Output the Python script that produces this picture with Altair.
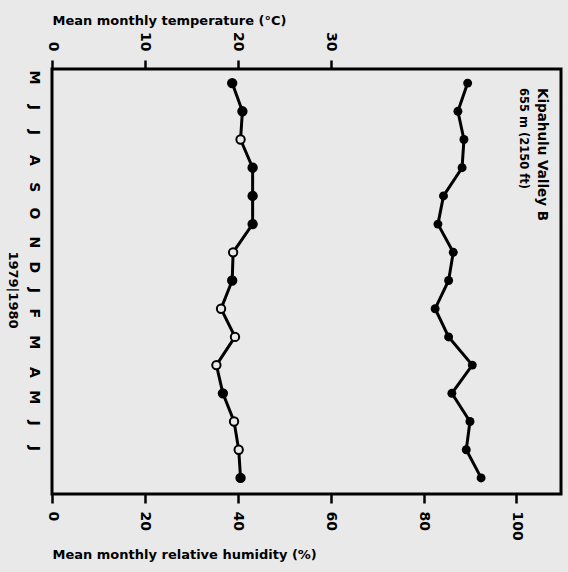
import altair as alt
import pandas as pd

months = ["M", "J", "J", "A", "S", "O", "N", "D", "J", "F", "M", "A", "M", "J", "J"]
# where the hand-lettered month labels sit, in month-index units
month_label_pos = [-0.22, 0.84, 1.73, 2.72, 3.68, 4.60, 5.63, 6.51, 7.33, 8.14, 9.17, 10.24, 11.12, 12.04, 12.93]
temperature = [19.4, 20.5, 20.3, 21.6, 21.6, 21.6, 19.5, 19.4, 18.2, 19.7, 17.7, 18.4, 19.6, 20.1, 20.3]
temp_marker = ["filled", "filled", "open", "filled", "filled", "filled", "open", "filled",
               "open", "open", "open", "filled", "open", "open", "filled"]
humidity = [89.5, 87.4, 88.7, 88.3, 84.3, 83.1, 86.4, 85.4, 82.5, 85.4, 90.5, 86.1, 90.0, 89.2, 92.4]
temp_ticks = [0, 10, 20, 30]
hum_ticks = [0, 20, 40, 60, 80, 100]
station = ["Kipahulu Valley B", "655 m (2150 ft)"]
years = "1979|1980"

BG = "#e9e9e9"
FONT = "DejaVu Sans"

df = pd.DataFrame({
    "idx": list(range(len(months))),
    "month": months,
    "temp": temperature,
    "marker": temp_marker,
    "hum": humidity,
})

month_expr = ("[" + ",".join("'%s'" % m for m in months) + "][indexof(["
              + ",".join(repr(p) for p in month_label_pos) + "], datum.value)]")

y_scale = alt.Scale(domain=[-0.5, 14.57], nice=False, zero=False, reverse=True)
y_axis = alt.Axis(
    values=month_label_pos,
    labelExpr=month_expr,
    labelAngle=90,
    labelAlign="center",
    labelBaseline="middle",
    ticks=False,
    tickSize=0,
    domain=False,
    grid=False,
    labelPadding=19,
    labelFontSize=14,
    labelFontWeight="bold",
    labelFont=FONT,
    labelColor="black",
    labelOverlap=False,
    title=None,
)
y_enc = alt.Y("idx:Q", scale=y_scale, axis=y_axis)

temp_scale = alt.Scale(domain=[0, 54.8], nice=False, zero=False)
temp_axis = alt.Axis(
    orient="top",
    values=temp_ticks,
    labelAngle=90,
    labelAlign="right",
    labelBaseline="middle",
    tickSize=9,
    tickWidth=2.5,
    tickColor="black",
    domain=False,
    grid=False,
    labelPadding=9,
    labelFontSize=14,
    labelFontWeight="bold",
    labelFont=FONT,
    labelColor="black",
    title="Mean monthly temperature (°C)",
    titleFont=FONT,
    titleFontSize=13,
    titleFontWeight="bold",
    titleColor="black",
    titleX=0,
    titleY=-49,
    titleAlign="left",
    titleBaseline="middle",
    titleAngle=0,
)
x_temp = alt.X("temp:Q", scale=temp_scale, axis=temp_axis)

hum_scale = alt.Scale(domain=[0, 109.6], nice=False, zero=False)
hum_axis = alt.Axis(
    orient="bottom",
    values=hum_ticks,
    labelAngle=90,
    labelAlign="left",
    labelBaseline="middle",
    tickSize=9,
    tickWidth=2.5,
    tickColor="black",
    domain=False,
    grid=False,
    labelPadding=8,
    labelFontSize=14,
    labelFontWeight="bold",
    labelFont=FONT,
    labelColor="black",
    title="Mean monthly relative humidity (%)",
    titleFont=FONT,
    titleFontSize=13,
    titleFontWeight="bold",
    titleColor="black",
    titleX=0,
    titleY=60,
    titleAlign="left",
    titleBaseline="middle",
    titleAngle=0,
)
x_hum = alt.X("hum:Q", scale=hum_scale, axis=hum_axis)

base = alt.Chart(df)

temp_line = base.mark_line(color="black", strokeWidth=3).encode(x=x_temp, y=y_enc, order="idx:Q")
temp_pts = base.mark_point(shape="circle", filled=True, size=70, stroke="black", strokeWidth=2, opacity=1).encode(
    x=x_temp,
    y=y_enc,
    fill=alt.Fill("marker:N", scale=alt.Scale(domain=["filled", "open"], range=["black", BG]), legend=None),
)
temp_layer = alt.layer(temp_line, temp_pts)

hum_line = base.mark_line(color="black", strokeWidth=3).encode(x=x_hum, y=y_enc, order="idx:Q")
hum_pts = base.mark_point(shape="circle", filled=True, size=80, color="black", opacity=1).encode(
    x=x_hum,
    y=y_enc,
)
hum_layer = alt.layer(hum_line, hum_pts)

txt1 = alt.Chart(pd.DataFrame({"t": [station[0]]})).mark_text(
    angle=90, align="left", baseline="middle", font=FONT, fontSize=13.5, fontWeight="bold", color="black"
).encode(text="t:N", x=alt.value(490), y=alt.value(19))
txt2 = alt.Chart(pd.DataFrame({"t": [station[1]]})).mark_text(
    angle=90, align="left", baseline="middle", font=FONT, fontSize=11.5, fontWeight="bold", color="black"
).encode(text="t:N", x=alt.value(471), y=alt.value(19))
txt3 = alt.Chart(pd.DataFrame({"t": [years]})).mark_text(
    angle=90, align="center", baseline="middle", font=FONT, fontSize=13, fontWeight="bold", color="black"
).encode(text="t:N", x=alt.value(-39), y=alt.value(221))

chart = alt.layer(temp_layer, hum_layer, txt1, txt2, txt3).resolve_scale(x="independent").properties(
    width=509,
    height=425,
    autosize=alt.AutoSizeParams(type="none"),
    padding={"left": 52, "top": 69, "right": 7, "bottom": 78},
    background=BG,
).configure_view(stroke="black", strokeWidth=3)

chart.save("out.html", embed_options={"renderer": "svg", "actions": False})
